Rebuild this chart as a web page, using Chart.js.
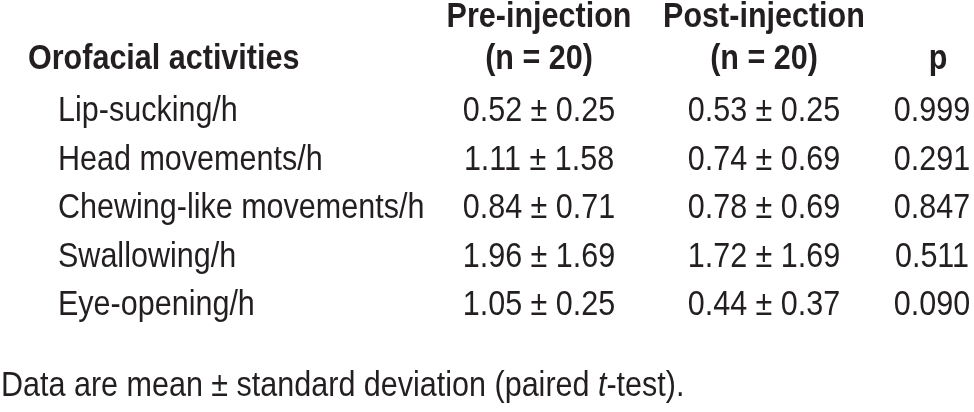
<!DOCTYPE html>
<html>
<head>
<meta charset="utf-8">
<script src="https://cdn.jsdelivr.net/npm/chart.js@4"></script>
<style>
    html, body { margin: 0; padding: 0; background: #fff; }
    canvas { display: block; }
</style>
</head>
<body>
<canvas id="tableChart" width="974" height="412"></canvas>
<script>
// Baris tabel dan nilainya
const activities = ['Lip-sucking/h', 'Head movements/h', 'Chewing-like movements/h', 'Swallowing/h', 'Eye-opening/h'];
const preMean = [0.52, 1.11, 0.84, 1.96, 1.05];
const preSD = [0.25, 1.58, 0.71, 1.69, 0.25];
const postMean = [0.53, 0.74, 0.78, 1.72, 0.44];
const postSD = [0.25, 0.69, 0.69, 1.69, 0.37];
const pValues = [0.999, 0.291, 0.847, 0.511, 0.090];

// Judul kolom (dua baris)
const headerTop = ['', 'Pre-injection', 'Post-injection', ''];
const headerBottom = ['Orofacial activities', '(n = 20)', '(n = 20)', 'p'];
const footnote = ['Data are mean \u00b1 standard deviation (paired ', 't', '-test).'];

// Gaya teks (huruf sempit)
const FONT = 'Liberation Sans, Arial, sans-serif';
const FONT_SIZE = 35;
const SX = 0.872;
const INK = '#231f20';

// Posisi kolom
const COL_LABEL = 58;
const COL_HEAD = 28;
const COL_PRE = 539;
const COL_POST = 764;
const COL_P = 932;
const COL_P_HEAD = 938;

const fmt = (m, s) => m.toFixed(2) + ' \u00b1 ' + s.toFixed(2);

function drawText(ctx, s, x, base, align, weight, style) {
    ctx.save();
    ctx.translate(x, base);
    ctx.scale(SX, 1);
    ctx.font = (style || 'normal') + ' ' + (weight || 'normal') + ' ' + FONT_SIZE + 'px ' + FONT;
    ctx.textAlign = align;
    ctx.textBaseline = 'alphabetic';
    ctx.fillStyle = INK;
    ctx.fillText(s, 0, 0);
    const w = ctx.measureText(s).width * SX;
    ctx.restore();
    return w;
}

const tablePlugin = {
    id: 'tableText',
    afterDraw(chart) {
        const ctx = chart.ctx;
        const y = chart.scales.y;
        const capHalf = FONT_SIZE * 0.355;
        const firstBase = y.getPixelForValue(0) + capHalf;

        // header
        const head1 = firstBase - 94;
        const head2 = firstBase - 52;
        const headX = [COL_HEAD, COL_PRE, COL_POST, COL_P_HEAD];
        const headAlign = ['left', 'center', 'center', 'center'];
        headerTop.forEach((t, i) => { if (t) drawText(ctx, t, headX[i], head1, headAlign[i], 'bold'); });
        headerBottom.forEach((t, i) => drawText(ctx, t, headX[i], head2, headAlign[i], 'bold'));

        // isi tabel
        activities.forEach((label, i) => {
            const base = y.getPixelForValue(i) + capHalf;
            drawText(ctx, label, COL_LABEL, base, 'left');
            drawText(ctx, fmt(preMean[i], preSD[i]), COL_PRE, base, 'center');
            drawText(ctx, fmt(postMean[i], postSD[i]), COL_POST, base, 'center');
            drawText(ctx, pValues[i].toFixed(3), COL_P, base, 'center');
        });

        // catatan kaki
        const footBase = y.getPixelForValue(activities.length - 1) + capHalf + 81;
        let x = 1;
        footnote.forEach((part, i) => {
            x += drawText(ctx, part, x, footBase, 'left', 'normal', i === 1 ? 'italic' : 'normal');
        });
    }
};

const config = {
    type: 'bar',
    data: {
        labels: activities,
        datasets: []
    },
    options: {
        indexAxis: 'y',
        responsive: false,
        animation: false,
        events: [],
        layout: {
            padding: { top: 84.75, bottom: 84.75, left: 0, right: 0 }
        },
        plugins: {
            legend: { display: false },
            tooltip: { enabled: false }
        },
        scales: {
            x: { display: false },
            y: { display: false, offset: true }
        }
    },
    plugins: [tablePlugin]
};

const ctx = document.getElementById('tableChart').getContext('2d');
new Chart(ctx, config);
</script>
</body>
</html>
